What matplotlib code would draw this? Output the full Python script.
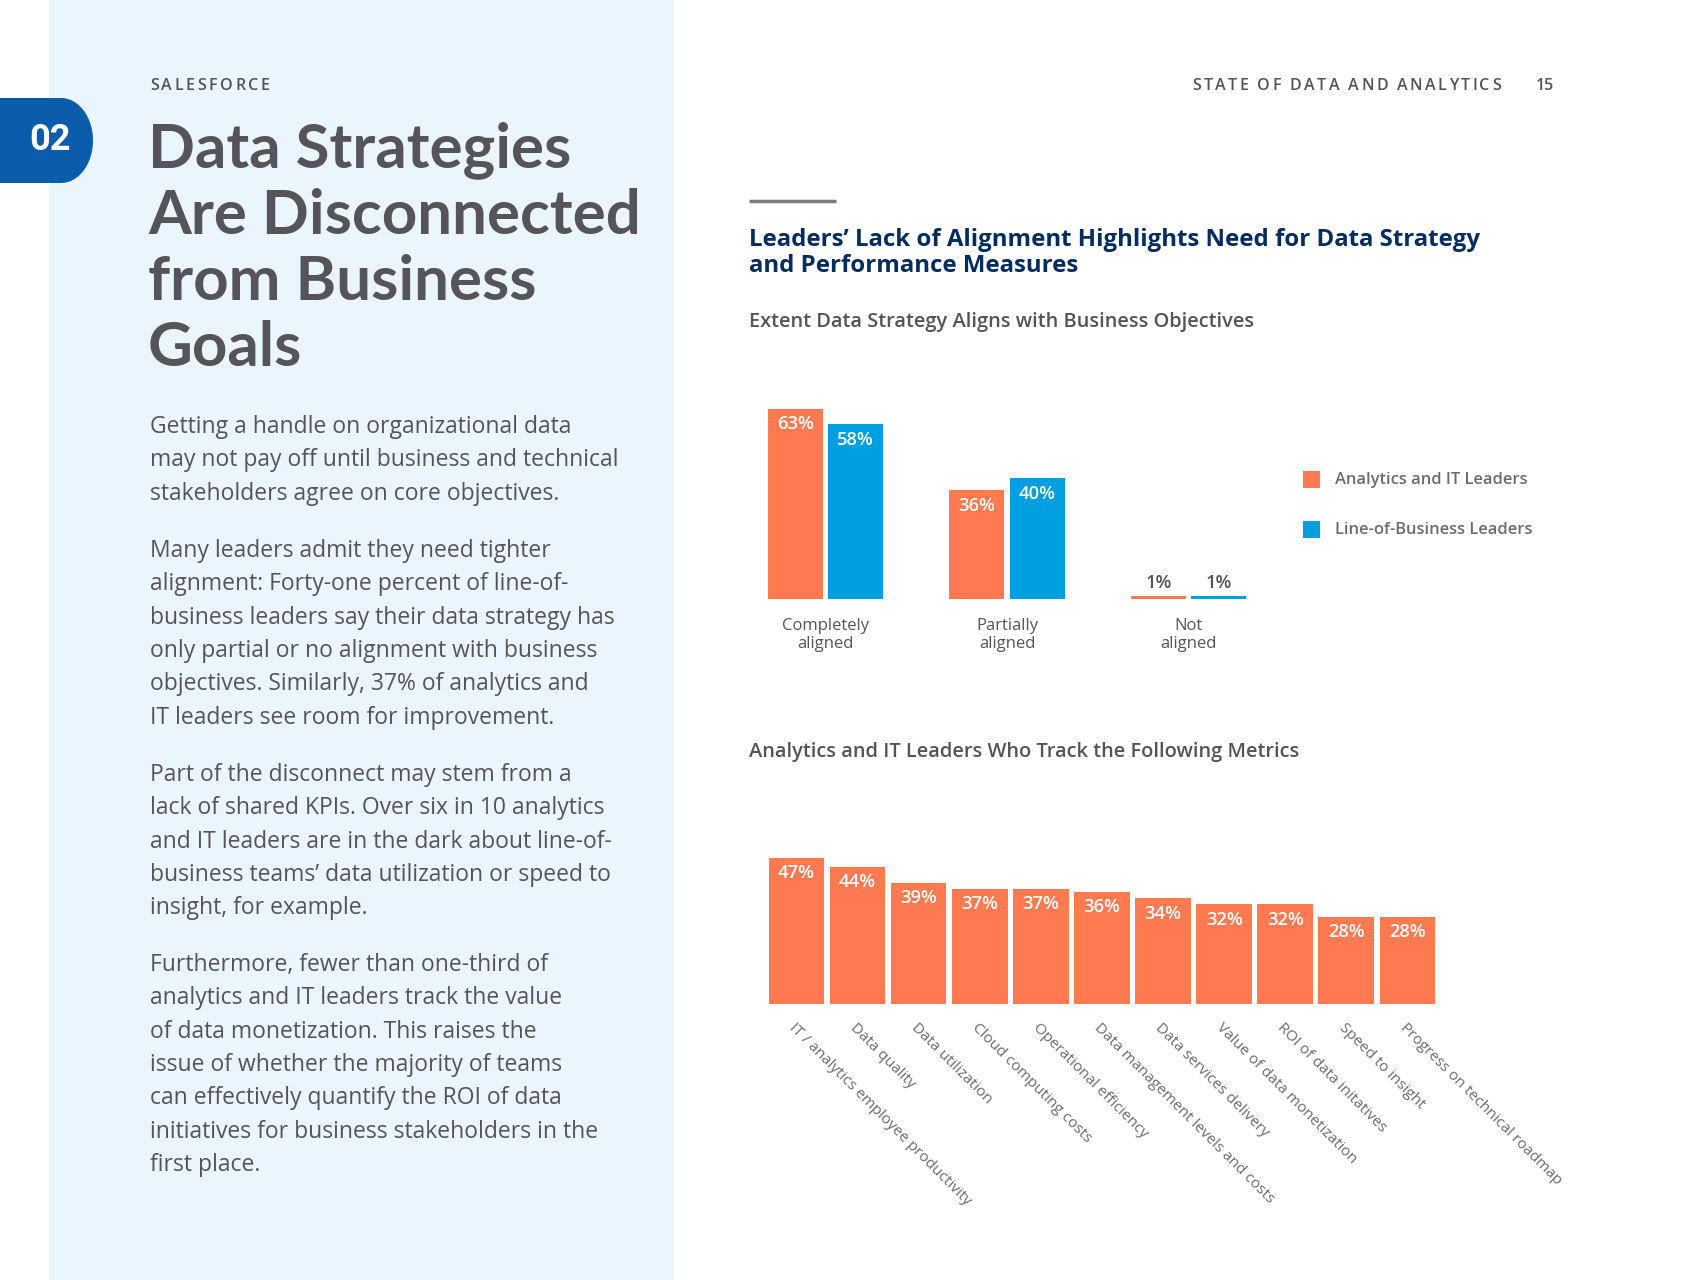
import numpy as np
import matplotlib
matplotlib.use("Agg")
import matplotlib.pyplot as plt
from matplotlib.patches import Rectangle, Polygon
from matplotlib.font_manager import FontProperties

# ---------------- data ----------------
align_categories = ["Completely\naligned", "Partially\naligned", "Not\naligned"]
analytics_it = [63, 36, 1]
line_of_business = [58, 40, 1]
series_names = ["Analytics and IT Leaders", "Line-of-Business Leaders"]

metric_labels = [
    "IT / analytics employee productivity", "Data quality", "Data utilization",
    "Cloud computing costs", "Operational efficiency",
    "Data management levels and costs", "Data services delivery",
    "Value of data monetization", "ROI of data initatives",
    "Speed to insight", "Progress on technical roadmap",
]
metric_values = [47, 44, 39, 37, 37, 36, 34, 32, 32, 28, 28]

ORANGE = "#FF7A50"
BLUE = "#00A0E0"
PANEL = "#EAF5FE"
NAVY = "#032D60"
GRAY = "#54535A"
LGRAY = "#6B6B70"
TFONT = "Lato"
FONT = "Open Sans"

W, H = 1707, 1280
fig = plt.figure(figsize=(W / 100, H / 100), dpi=100)
fig.patch.set_facecolor("white")

bg = fig.add_axes([0, 0, 1, 1])
bg.set_xlim(0, W)
bg.set_ylim(H, 0)
bg.axis("off")

# left light-blue panel
bg.add_patch(Rectangle((49, 0), 625, H, facecolor=PANEL, edgecolor="none", zorder=0))

# badge
cx, cy, rx, ry = 61, 140.5, 32, 42.5
arc = [(cx + rx * np.cos(a), cy + ry * np.sin(a)) for a in np.linspace(-np.pi / 2, np.pi / 2, 60)]
bg.add_patch(Polygon([(0, 98)] + arc + [(0, 183)], closed=True, facecolor="#0B5CAB",
                     edgecolor="none", zorder=2))
bg.text(50, 140, "02", color="white", fontsize=26, fontweight="bold", family="Roboto",
        ha="center", va="center", zorder=3)

renderer = fig.canvas.get_renderer()


def spaced(x, y, s, size, color, weight, track, ha="left"):
    fp = FontProperties(family=FONT, size=size, weight=weight)
    widths = [renderer.get_text_width_height_descent(c, fp, ismath=False)[0] for c in s]
    total = sum(widths) + track * (len(s) - 1)
    if ha == "right":
        x = x - total
    for c, w in zip(s, widths):
        bg.text(x, y, c, fontproperties=fp, color=color, ha="left", va="baseline")
        x += w + track


spaced(150, 90, "SALESFORCE", 11.5, GRAY, "semibold", 2.6)
spaced(1501, 90, "STATE OF DATA AND ANALYTICS", 11.5, GRAY, "semibold", 2.4, ha="right")
bg.text(1536, 90, "15", fontsize=11.5, fontweight="semibold", family=FONT, color=GRAY,
        va="baseline")

# title
title_lines = ["Data Strategies", "Are Disconnected", "from Business", "Goals"]
for i, line in enumerate(title_lines):
    bg.text(148, 167 + i * 66.5, line, fontsize=44.5, fontweight="bold", family=TFONT,
            color="#55545B", va="baseline")

paras = [
    ["Getting a handle on organizational data",
     "may not pay off until business and technical",
     "stakeholders agree on core objectives."],
    ["Many leaders admit they need tighter",
     "alignment: Forty-one percent of line-of-",
     "business leaders say their data strategy has",
     "only partial or no alignment with business",
     "objectives. Similarly, 37% of analytics and",
     "IT leaders see room for improvement."],
    ["Part of the disconnect may stem from a",
     "lack of shared KPIs. Over six in 10 analytics",
     "and IT leaders are in the dark about line-of-",
     "business teams\u2019 data utilization or speed to",
     "insight, for example."],
    ["Furthermore, fewer than one-third of",
     "analytics and IT leaders track the value",
     "of data monetization. This raises the",
     "issue of whether the majority of teams",
     "can effectively quantify the ROI of data",
     "initiatives for business stakeholders in the",
     "first place."],
]
starts = [433, 557, 781, 971]
for p, y0 in zip(paras, starts):
    for j, line in enumerate(p):
        bg.text(150, y0 + j * 33.3, line, fontsize=16.5, family=FONT, color="#55545B",
                va="baseline")

# right side headings
bg.plot([749, 836], [201, 201], color="#7A7A7A", lw=2.5, solid_capstyle="butt")
bg.text(749, 246, "Leaders\u2019 Lack of Alignment Highlights Need for Data Strategy",
        fontsize=17.3, fontweight="bold", family=FONT, color=NAVY, va="baseline")
bg.text(749, 272, "and Performance Measures",
        fontsize=17.3, fontweight="bold", family=FONT, color=NAVY, va="baseline")
bg.text(749, 327, "Extent Data Strategy Aligns with Business Objectives",
        fontsize=14.45, fontweight="semibold", family=FONT, color=GRAY, va="baseline")
bg.text(749, 757, "Analytics and IT Leaders Who Track the Following Metrics",
        fontsize=14.45, fontweight="semibold", family=FONT, color=GRAY, va="baseline")


def px_axes(left, top, width, height):
    return fig.add_axes([left / W, 1 - (top + height) / H, width / W, height / H])


# ---------------- chart 1 ----------------
pitch1 = 181.8
ax1 = px_axes(825.2 - pitch1 / 2, 599 - 70 * 3.02, 3 * pitch1, 70 * 3.02)
ax1.set_xlim(-0.5, 2.5)
ax1.set_ylim(0, 70)
ax1.patch.set_alpha(0)
for s in ax1.spines.values():
    s.set_visible(False)
x = np.arange(len(align_categories))
off, bw = 0.1655, 0.302
b1 = ax1.bar(x - off, analytics_it, bw, color=ORANGE)
b2 = ax1.bar(x + off, line_of_business, bw, color=BLUE)
for bars in (b1, b2):
    for rect in bars:
        v = rect.get_height()
        cxr = rect.get_x() + rect.get_width() / 2
        if v > 5:
            ax1.annotate(f"{v:.0f}%", (cxr, v), xytext=(0, -4.8), textcoords="offset points",
                         ha="center", va="top", color="white", fontsize=13.2,
                         fontweight="semibold", family=FONT)
        else:
            ax1.annotate(f"{v:.0f}%", (cxr, v), xytext=(0, 3), textcoords="offset points",
                         ha="center", va="bottom", color=GRAY, fontsize=13.2,
                         fontweight="semibold", family=FONT)
ax1.set_yticks([])
ax1.set_xticks(x)
ax1.set_xticklabels(align_categories, fontsize=12, family=FONT, color=GRAY,
                    linespacing=1.2)
ax1.tick_params(axis="x", length=0, pad=13.5)

# legend (manual squares)
for i, (name, col) in enumerate(zip(series_names, [ORANGE, BLUE])):
    y = 479 + i * 50
    bg.add_patch(Rectangle((1303, y - 8), 16.5, 16.5, facecolor=col, edgecolor="none"))
    bg.text(1335, y + 1.5, name, fontsize=11.9, family=FONT, fontweight="semibold",
            color=LGRAY, va="center")

# ---------------- chart 2 ----------------
pitch2 = 61.1
ax2 = px_axes(796.4 - pitch2 / 2, 1004 - 50 * 3.11, 11 * pitch2, 50 * 3.11)
ax2.set_xlim(-0.5, 10.5)
ax2.set_ylim(0, 50)
ax2.patch.set_alpha(0)
for s in ax2.spines.values():
    s.set_visible(False)
x2 = np.arange(len(metric_values))
bars2 = ax2.bar(x2, metric_values, 0.91, color=ORANGE)
for rect in bars2:
    v = rect.get_height()
    ax2.annotate(f"{v:.0f}%", (rect.get_x() + rect.get_width() / 2, v), xytext=(0, -4.5),
                 textcoords="offset points", ha="center", va="top", color="white",
                 fontsize=13.2, fontweight="semibold", family=FONT)
ax2.set_yticks([])
ax2.set_xticks(x2)
ax2.set_xticklabels(metric_labels, rotation=-45, ha="left", va="top",
                    rotation_mode="anchor", fontsize=11, family=FONT, color=LGRAY)
ax2.tick_params(axis="x", length=0, pad=12)

fig.savefig("out.png", dpi=100, facecolor="white")
